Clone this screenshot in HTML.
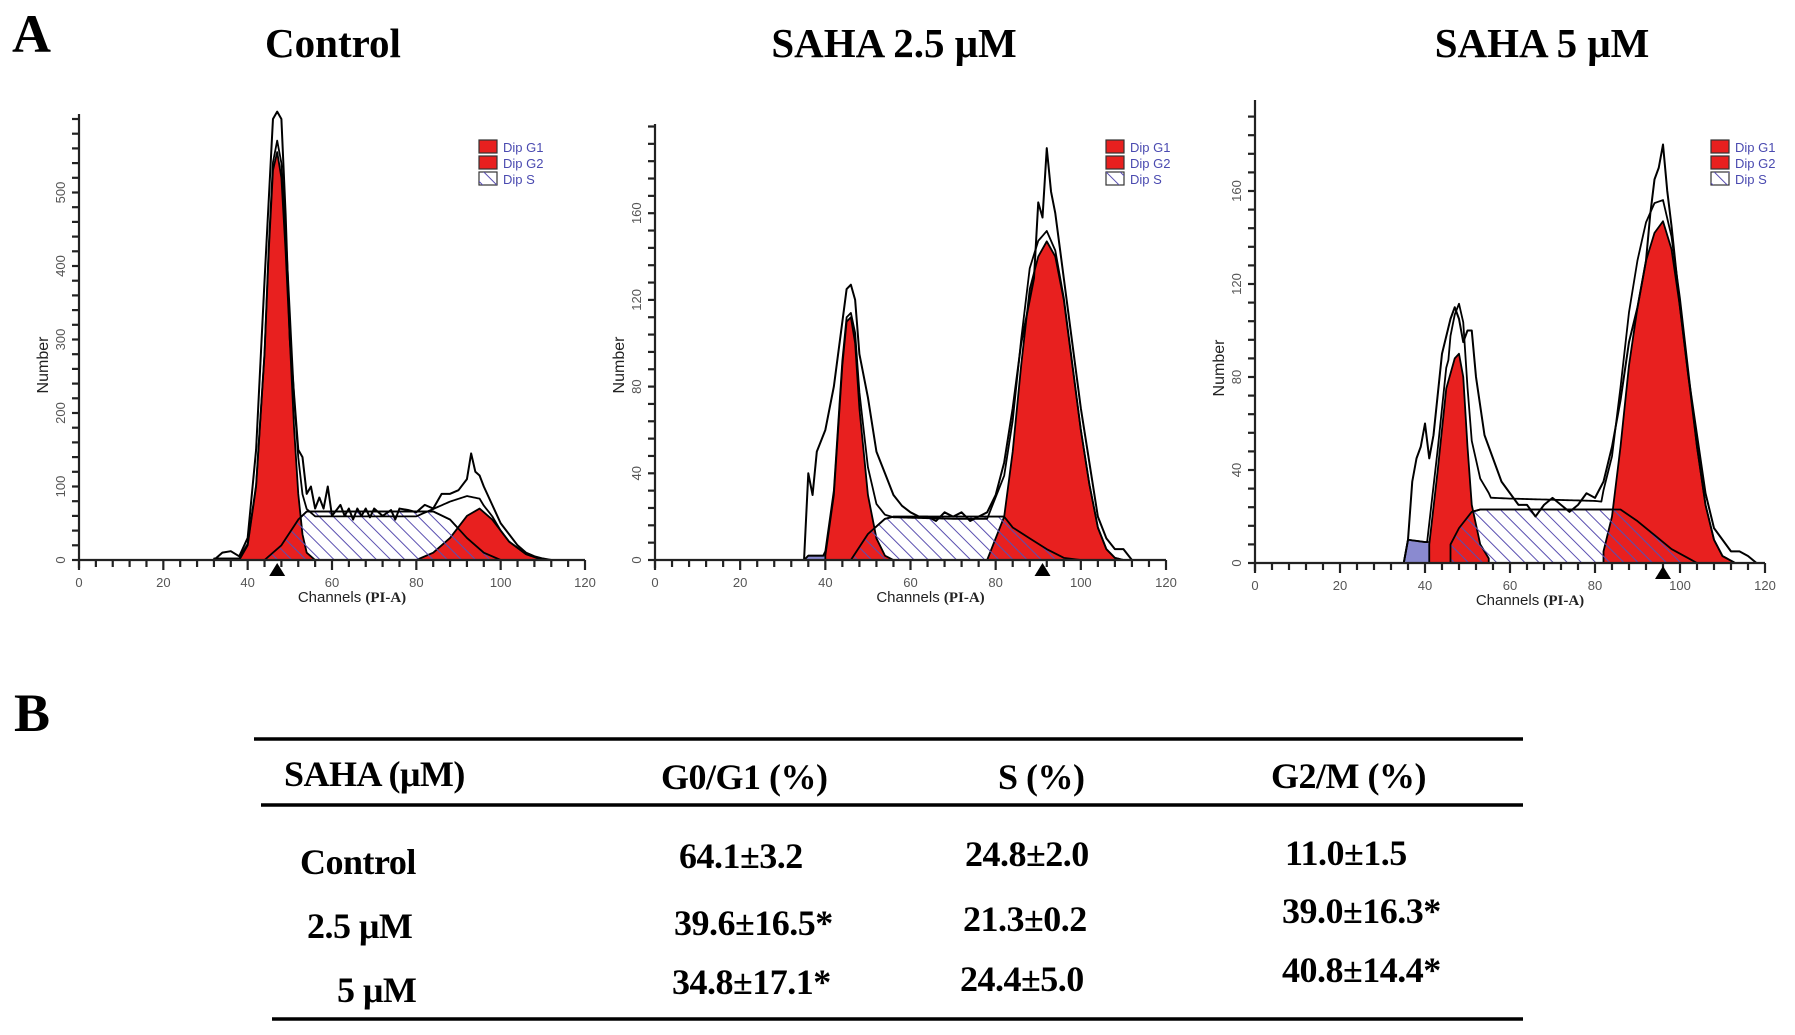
<!DOCTYPE html>
<html><head><meta charset="utf-8">
<style>
body{margin:0;background:#fff;}
#root{position:relative;width:1795px;height:1035px;overflow:hidden;background:#fff;}
svg text{font-family:"Liberation Sans",sans-serif;}
svg text.serif, svg .serif text{font-family:"Liberation Serif",serif;font-weight:bold;}
</style></head>
<body>
<div id="root">
<svg id="svg" width="1795" height="1035" viewBox="0 0 1795 1035">
<defs>
<pattern id="hatch" patternUnits="userSpaceOnUse" width="10" height="10" patternTransform="rotate(-45)">
<line x1="0" y1="0" x2="0" y2="10" stroke="#5a4fb0" stroke-width="2"/>
</pattern>
</defs>
<text x="12" y="52" class="serif" font-size="54" fill="#000">A</text>
<text x="14" y="731" class="serif" font-size="54" fill="#000">B</text>
<text x="333" y="57" class="serif" font-size="41" text-anchor="middle">Control</text>
<text x="894" y="57" class="serif" font-size="41" text-anchor="middle">SAHA 2.5 μM</text>
<text x="1542" y="57" class="serif" font-size="41" text-anchor="middle">SAHA 5 μM</text>
<g id="plots"></g>
<g>
<line x1="254" y1="739" x2="1523" y2="739" stroke="#000" stroke-width="3.5"/>
<line x1="261" y1="805" x2="1523" y2="805" stroke="#000" stroke-width="3.5"/>
<line x1="272" y1="1019" x2="1523" y2="1019" stroke="#000" stroke-width="3.5"/>
<g class="serif" font-size="36" fill="#000" letter-spacing="-0.5">
<text x="284" y="786">SAHA (μM)</text>
<text x="661" y="789">G0/G1 (%)</text>
<text x="998" y="789">S (%)</text>
<text x="1271" y="788">G2/M (%)</text>
<text x="300" y="874">Control</text>
<text x="679" y="868">64.1±3.2</text>
<text x="965" y="866">24.8±2.0</text>
<text x="1285" y="865">11.0±1.5</text>
<text x="307" y="938">2.5 μM</text>
<text x="674" y="935">39.6±16.5*</text>
<text x="963" y="931">21.3±0.2</text>
<text x="1282" y="923">39.0±16.3*</text>
<text x="337" y="1002">5 μM</text>
<text x="672" y="994">34.8±17.1*</text>
<text x="960" y="991">24.4±5.0</text>
<text x="1282" y="982">40.8±14.4*</text>
</g>
</g>
</svg>
</div>
<script>
// ---- Control ----
const ctrlG1Ch=[38,40,42,44,45,46,47,48,49,50,51,52,53,54,56];
const ctrlG1Val=[0,20,100,280,420,530,555,520,420,300,180,90,35,10,0];
const ctrlSCh=[44,48,52,54,84,88,92,96,100];
const ctrlSVal=[0,20,55,66,66,55,30,10,0];
const ctrlG2Ch=[80,84,88,92,95,98,102,106,110];
const ctrlG2Val=[0,10,30,60,70,55,25,8,0];
const ctrlDebCh=[32,50];
const ctrlDebVal=[2,2];
const ctrlRawCh=[32,34,36,38,40,42,44,46,47,48,49,50,52,53,54,55,56,57,58,59,60,62,63,64,65,66,67,68,69,70,72,74,75,76,78,80,82,84,86,88,90,92,93,94,95,96,98,100,102,104,106,108,110,112];
const ctrlRawVal=[0,10,12,5,30,150,380,600,610,600,470,300,150,140,90,100,70,85,70,100,60,75,60,70,55,70,60,70,58,70,60,68,55,70,68,65,75,70,90,90,95,110,145,120,115,100,75,50,35,20,10,5,2,0];
const ctrlYTicks=[0,100,200,300,400,500];
// ---- SAHA 2.5 ----
const s25G1Ch=[40,42,44,45,46,47,48,50,52,54,56];
const s25G1Val=[2,30,90,110,112,100,70,30,10,2,0];
const s25SCh=[46,50,54,56,82,84,88,92,96,100];
const s25SVal=[0,12,19,20,20,15,10,5,1,0];
const s25G2Ch=[78,82,84,86,88,90,92,94,96,98,100,102,104,106,108,110];
const s25G2Val=[0,20,50,90,125,140,147,140,120,90,60,35,15,5,1,0];
const s25DebCh=[35,36,40,50,60,70,80,90,95];
const s25DebVal=[0,2,2,2,1.5,1,1,0.5,0];
const s25RawCh=[35,36,37,38,40,42,44,45,46,47,48,50,52,54,56,58,60,62,64,66,68,70,72,74,76,78,80,82,84,86,88,89,90,91,92,93,94,96,98,100,102,104,106,108,110,112];
const s25RawVal=[0,40,30,50,60,80,110,125,127,120,95,75,50,40,30,25,22,20,20,18,22,20,22,18,20,22,30,45,70,100,120,130,165,158,190,170,160,130,100,70,45,20,10,5,5,0];
const s25YTicks=[0,40,80,120,160];
// ---- SAHA 5 ----
const s5G1Ch=[41,43,45,47,48,49,50,51,53,55];
const s5G1Val=[8,40,75,88,90,80,50,25,8,2];
const s5SCh=[46,48,51,53,86,90,94,98,102,104];
const s5SVal=[8,15,22,23,23,18,12,6,2,0];
const s5G2Ch=[82,84,86,88,90,92,94,96,98,100,102,104,106,108,110,113];
const s5G2Val=[5,20,50,85,110,130,142,147,135,110,80,50,25,10,3,0];
const s5DebCh=[35,36,40,46,48,60,80,90,96,98];
const s5DebVal=[0,10,9,9,8,7,6,4,1,0];
const s5RawCh=[35,36,37,38,39,40,41,42,44,46,47,48,49,50,51,52,54,56,58,60,62,64,66,68,70,72,74,76,78,80,82,84,86,88,90,92,93,94,95,96,97,98,100,102,104,106,108,110,112,114,116,118];
const s5RawVal=[0,10,35,45,50,60,45,55,90,105,110,105,95,100,100,80,55,45,35,30,25,25,20,25,28,25,22,25,30,28,35,50,70,95,110,130,150,165,170,180,160,145,110,80,55,30,15,10,5,5,3,0];
const s5YTicks=[0,40,80,120,160];
const xTicks=[0,20,40,60,80,100,120];
const legendLabels=["Dip G1","Dip G2","Dip S"];

const NS="http://www.w3.org/2000/svg";
const plotsG=document.getElementById('plots');
function mk(tag,attrs,parent){const e=document.createElementNS(NS,tag);for(const k in attrs)e.setAttribute(k,attrs[k]);(parent||plotsG).appendChild(e);return e;}
function interp(ch,val,x){if(x<ch[0]||x>ch[ch.length-1])return 0;for(let i=0;i<ch.length-1;i++){if(x>=ch[i]&&x<=ch[i+1]){const t=(x-ch[i])/(ch[i+1]-ch[i]);return val[i]+t*(val[i+1]-val[i]);}}return val[val.length-1];}

function drawPlot(cfg){
  const g=mk('g',{});
  
  
  const xs=v=>cfg.x0+(cfg.x1-cfg.x0)*v/120;
  const ys=v=>cfg.y0-v*cfg.pxPerUnit;
  function area(ch,val,fill,name,stroke){
    let d='M'+xs(ch[0])+','+ys(0);
    for(let i=0;i<ch.length;i++)d+=' L'+xs(ch[i])+','+ys(val[i]);
    d+=' L'+xs(ch[ch.length-1])+','+ys(0)+'Z';
    const p=mk('path',{d:d,fill:fill,stroke:stroke||'#000','stroke-width':1.8,'stroke-linejoin':'round'},g);
    
    
    return p;
  }
  function line(ch,val,name,w){
    let d='';
    for(let i=0;i<ch.length;i++)d+=(i?' L':'M')+xs(ch[i])+','+ys(val[i]);
    const p=mk('path',{d:d,fill:'none',stroke:'#000','stroke-width':w||2,'stroke-linejoin':'round'},g);
    
    
  }
  area(cfg.debCh,cfg.debVal,'#8a8ad0','debris-area','#333');
  area(cfg.sCh,cfg.sVal,'#fff','s-phase-base');
  area(cfg.g1Ch,cfg.g1Val,'#e8201f','g1-peak');
  area(cfg.g2Ch,cfg.g2Val,'#e8201f','g2-peak');
  area(cfg.sCh,cfg.sVal,'url(#hatch)','s-phase-hatch');
  const ec=[],ev=[];
  const lo=Math.min(cfg.g1Ch[0],cfg.sCh[0],cfg.debCh[0]),hi=Math.max(cfg.g2Ch[cfg.g2Ch.length-1],cfg.sCh[cfg.sCh.length-1]);
  for(let x=lo;x<=hi;x+=0.5){ec.push(x);ev.push(interp(cfg.g1Ch,cfg.g1Val,x)+interp(cfg.g2Ch,cfg.g2Val,x)+interp(cfg.sCh,cfg.sVal,x)*0.9+interp(cfg.debCh,cfg.debVal,x));}
  line(ec,ev,'fit-envelope',1.8);
  line(cfg.rawCh,cfg.rawVal,'raw-histogram',2);
  const ax=mk('g',{stroke:'#222','stroke-width':2.2},g);
  
  
  mk('line',{x1:cfg.x0,y1:cfg.y0,x2:cfg.x1,y2:cfg.y0},ax);
  mk('line',{x1:cfg.x0,y1:cfg.y0+8,x2:cfg.x0,y2:cfg.yTop},ax);
  for(let v=0;v<=120;v+=4){mk('line',{x1:xs(v),y1:cfg.y0,x2:xs(v),y2:cfg.y0+(v%20===0?10:7)},ax);}
  const step=cfg.yTicks[1]/5;
  for(let v=0;ys(v)>=cfg.yTop;v+=step){mk('line',{x1:cfg.x0-7,y1:ys(v),x2:cfg.x0,y2:ys(v)},ax);}
  xTicks.forEach(v=>{const t=mk('text',{x:xs(v),y:cfg.y0+27,'text-anchor':'middle','font-size':13,fill:'#555'},g);t.textContent=v;
    
    });
  cfg.yTicks.forEach(v=>{const t=mk('text',{x:0,y:0,'text-anchor':'middle','font-size':13,fill:'#555',transform:'translate('+(cfg.x0-14)+','+ys(v)+') rotate(-90)'},g);t.textContent=v;
    
    });
  const yl=mk('text',{x:0,y:0,'text-anchor':'middle','font-size':16,fill:'#222',transform:'translate('+(cfg.x0-31)+','+(cfg.y0-195)+') rotate(-90)'},g);
  yl.textContent='Number';
  
  
  const xl=mk('text',{x:(cfg.x0+cfg.x1)/2+20,y:cfg.y0+42,'text-anchor':'middle','font-size':15,fill:'#222'},g);
  xl.innerHTML='Channels <tspan font-family="Liberation Serif" font-weight="bold">(PI-A)</tspan>';
  
  
  const mx=xs(cfg.marker);
  const mp=mk('path',{d:'M'+(mx-8)+','+(cfg.y0+16)+' L'+(mx+8)+','+(cfg.y0+16)+' L'+mx+','+(cfg.y0+3)+'Z',fill:'#000'},g);
  
  
  legendLabels.forEach((lab,i)=>{
    const ly=cfg.ly+i*16;
    const lg=mk('g',{},g);
    
    
    mk('rect',{x:cfg.lx,y:ly,width:18,height:13,fill:i<2?'#e8201f':'#fff',stroke:'#333','stroke-width':1.2},lg);
    if(i===2)mk('rect',{x:cfg.lx,y:ly,width:18,height:13,fill:'url(#hatch)'},lg);
    const t=mk('text',{x:cfg.lx+24,y:ly+12,'font-size':13,fill:'#4a4ab0'},lg);t.textContent=lab;
  });
}
drawPlot({name:'histogram-control',x0:79,x1:585,y0:560,yTop:114,pxPerUnit:73.5/100,yTicks:ctrlYTicks,
  g1Ch:ctrlG1Ch,g1Val:ctrlG1Val,sCh:ctrlSCh,sVal:ctrlSVal,g2Ch:ctrlG2Ch,g2Val:ctrlG2Val,debCh:ctrlDebCh,debVal:ctrlDebVal,rawCh:ctrlRawCh,rawVal:ctrlRawVal,marker:47,lx:479,ly:140});
drawPlot({name:'histogram-saha-2-5',x0:655,x1:1166,y0:560,yTop:124,pxPerUnit:86.7/40,yTicks:s25YTicks,
  g1Ch:s25G1Ch,g1Val:s25G1Val,sCh:s25SCh,sVal:s25SVal,g2Ch:s25G2Ch,g2Val:s25G2Val,debCh:s25DebCh,debVal:s25DebVal,rawCh:s25RawCh,rawVal:s25RawVal,marker:91,lx:1106,ly:140});
drawPlot({name:'histogram-saha-5',x0:1255,x1:1765,y0:563,yTop:100,pxPerUnit:93/40,yTicks:s5YTicks,
  g1Ch:s5G1Ch,g1Val:s5G1Val,sCh:s5SCh,sVal:s5SVal,g2Ch:s5G2Ch,g2Val:s5G2Val,debCh:s5DebCh,debVal:s5DebVal,rawCh:s5RawCh,rawVal:s5RawVal,marker:96,lx:1711,ly:140});
</script>
</body></html>
